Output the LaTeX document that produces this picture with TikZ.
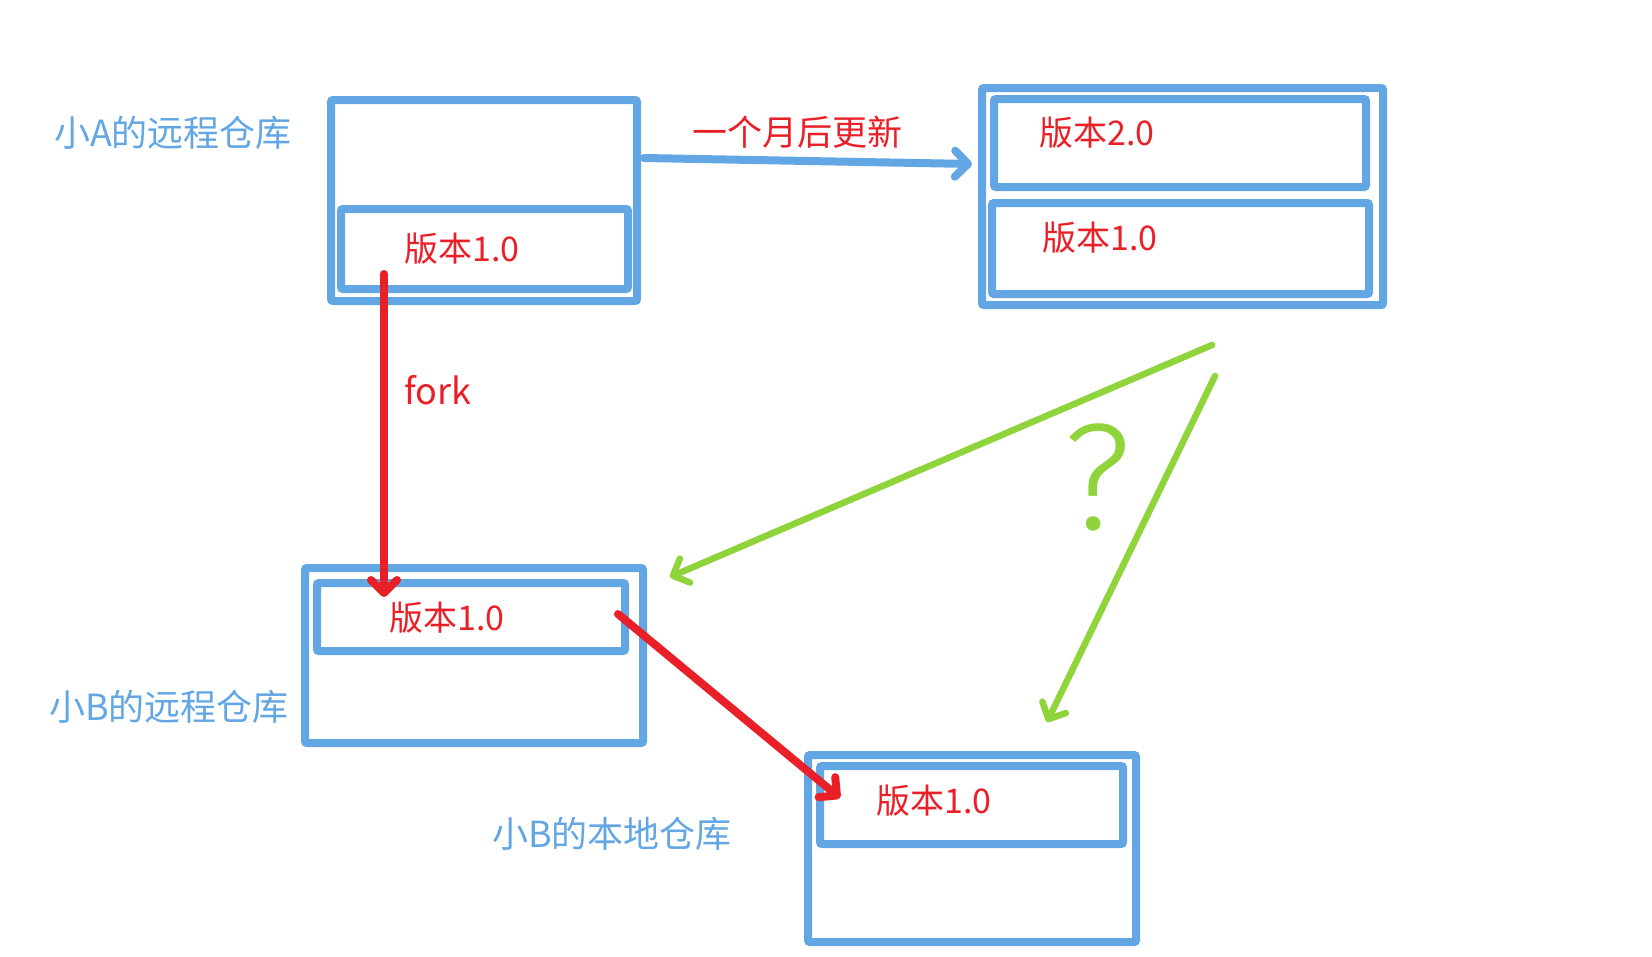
\documentclass[tikz,border=0pt]{standalone}
\usepackage{fontspec}
\usepackage{xcolor}
\usepackage{tikz}
\usetikzlibrary{arrows.meta}
\usetikzlibrary{calc}

\newfontfamily\cjk{Noto Sans CJK SC}
\newfontfamily\qfont{Fira Sans Light}

\definecolor{boxblue}{RGB}{98,166,228}
\definecolor{vred}{RGB}{234,32,40}
\definecolor{qgreen}{RGB}{142,212,58}

\begin{document}
\begin{tikzpicture}[x=1pt, y=-1pt]
        \tikzstyle{repo} = [rectangle, draw=boxblue, line width=8pt, rounded corners=2pt, inner sep=0pt]
        \tikzstyle{version} = [text=vred, inner sep=0pt, font=\cjk\fontsize{34}{34}\selectfont]
        \tikzstyle{repolabel} = [text=boxblue, inner sep=0pt, font=\cjk\fontsize{36}{36}\selectfont]
        \tikzstyle{tip} = [-{Straight Barb[length=13pt, width=26pt, round]}, line cap=round]
        \useasboundingbox (0,0) rectangle (1652,956);

        % the repositories
        \node[repo, minimum width=306pt, minimum height=201pt] (remoteA) at (484,200.5) {};
        \node[repo, minimum width=287pt, minimum height=80pt] (remoteAv1) at (484.5,249) {};
        \node[repo, minimum width=401pt, minimum height=217pt] (updA) at (1182.5,196.5) {};
        \node[repo, minimum width=372pt, minimum height=88pt] (updAv2) at (1180,143) {};
        \node[repo, minimum width=377pt, minimum height=91pt] (updAv1) at (1180.5,248.5) {};
        \node[repo, minimum width=338pt, minimum height=175pt] (remoteB) at (474,655.5) {};
        \node[repo, minimum width=308pt, minimum height=68pt] (remoteBv1) at (471,617) {};
        \node[repo, minimum width=328pt, minimum height=187pt] (localB) at (972,848.5) {};
        \node[repo, minimum width=303pt, minimum height=78pt] (localBv1) at (971.5,805) {};

        % texts
        \node[repolabel] (labA) at (173,133) {小A的远程仓库};
        \node[repolabel] (labB) at (169,707) {小B的远程仓库};
        \node[repolabel] (labLocal) at (612,834) {小B的本地仓库};
        \node[version] (txtA) at (462,249) {版本1.0};
        \node[version] (txtUpd2) at (1097,133) {版本2.0};
        \node[version] (txtUpd1) at (1100,238) {版本1.0};
        \node[version] (txtB) at (447,618) {版本1.0};
        \node[version] (txtLocal) at (934,801) {版本1.0};
        \node[version, font=\cjk\fontsize{35}{35}\selectfont] (labUpd) at (797,132) {一个月后更新};
        \node[version, font=\cjk\fontsize{36}{36}\selectfont] (labFork) at (438,390) {fork};
        \node[text=qgreen, inner sep=0pt, font=\qfont\fontsize{152}{152}\selectfont] (q) at (1097,477) {?};

        % arrow ends
        \coordinate (updS) at (644,158);
        \coordinate (updE) at (972,164);
        \coordinate (forkS) at (384,274);
        \coordinate (forkE) at (384,597);
        \coordinate (cloneS) at (618,614);
        \coordinate (cloneE) at (840,798);
        \coordinate (pullS) at (1212,345);
        \coordinate (pullE) at (670,577);
        \coordinate (pull2S) at (1215,376);
        \coordinate (pull2E) at (1047,722);

        \draw[tip, boxblue, line width=8pt] (updS) -- (updE);
        \draw[tip, vred, line width=8pt] (forkS) -- (forkE);
        \draw[tip, vred, line width=8pt] (cloneS) -- (cloneE);
        \draw[tip, qgreen, line width=6.5pt] (pullS) -- (pullE);
        \draw[tip, qgreen, line width=6.5pt] (pull2S) -- (pull2E);
\end{tikzpicture}
\end{document}
